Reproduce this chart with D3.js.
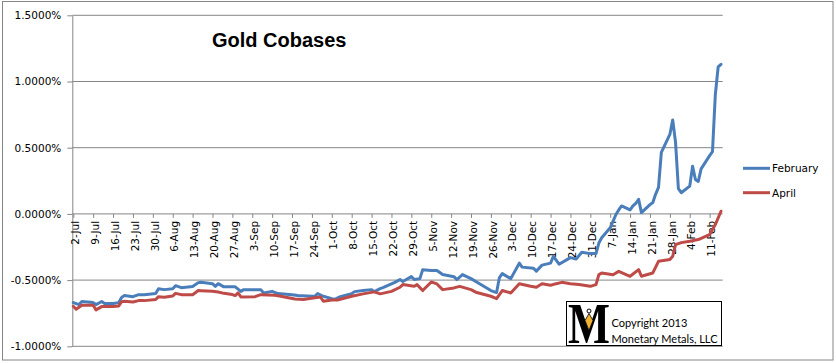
<!DOCTYPE html>
<html>
	<head>
		<meta charset="utf-8">
		<style type="text/css">
			body  { margin: 0; background: #fff; }
			text  { font-family: "DejaVu Sans", sans-serif; }
		</style>
		<title>Gold Cobases</title>
	</head>
	<body>
		<script src="https://cdn.jsdelivr.net/npm/d3@7"></script>
		<script>

// data //////////////////////////////////////////////////////////////////////

var yTicks = [-1, -0.5, 0, 0.5, 1, 1.5];   // percent

var seriesNames  = ["February", "April"];
var seriesColors = ["#4a7ebb", "#be4b48"];

var february = [
	["2012-07-02",-0.670],["2012-07-04",-0.685],["2012-07-05",-0.662],["2012-07-09",-0.670],["2012-07-10",-0.685],
	["2012-07-12",-0.662],["2012-07-13",-0.677],["2012-07-16",-0.677],["2012-07-18",-0.670],["2012-07-19",-0.632],
	["2012-07-20",-0.617],["2012-07-23",-0.625],["2012-07-25",-0.610],["2012-07-27",-0.610],["2012-07-31",-0.602],
	["2012-08-01",-0.565],["2012-08-03",-0.572],["2012-08-06",-0.565],["2012-08-07",-0.542],["2012-08-09",-0.557],
	["2012-08-13",-0.549],["2012-08-15",-0.519],["2012-08-16",-0.516],["2012-08-20",-0.527],["2012-08-21",-0.547],
	["2012-08-22",-0.527],["2012-08-24",-0.551],["2012-08-28",-0.551],["2012-08-30",-0.585],["2012-08-31",-0.572],
	["2012-09-06",-0.572],["2012-09-07",-0.597],["2012-09-10",-0.585],["2012-09-12",-0.602],["2012-09-17",-0.610],
	["2012-09-19",-0.617],["2012-09-24",-0.622],["2012-09-25",-0.622],["2012-09-26",-0.602],["2012-09-28",-0.622],
	["2012-10-01",-0.640],["2012-10-02",-0.645],["2012-10-04",-0.625],["2012-10-08",-0.602],["2012-10-09",-0.587],
	["2012-10-12",-0.579],["2012-10-15",-0.572],["2012-10-16",-0.587],["2012-10-18",-0.565],["2012-10-19",-0.557],
	["2012-10-23",-0.519],["2012-10-25",-0.496],["2012-10-26",-0.511],["2012-10-29",-0.474],["2012-10-30",-0.496],
	["2012-11-01",-0.489],["2012-11-02",-0.421],["2012-11-05",-0.428],["2012-11-07",-0.428],["2012-11-08",-0.443],
	["2012-11-09",-0.458],["2012-11-13",-0.474],["2012-11-14",-0.496],["2012-11-16",-0.458],["2012-11-19",-0.489],
	["2012-11-22",-0.527],["2012-11-26",-0.579],["2012-11-28",-0.594],["2012-11-29",-0.481],["2012-11-30",-0.451],
	["2012-12-03",-0.489],["2012-12-06",-0.372],["2012-12-07",-0.402],["2012-12-11",-0.410],["2012-12-12",-0.432],
	["2012-12-14",-0.387],["2012-12-17",-0.372],["2012-12-18",-0.320],["2012-12-20",-0.380],["2012-12-24",-0.330],
	["2012-12-26",-0.340],["2012-12-28",-0.290],["2012-12-31",-0.300],["2013-01-02",-0.300],["2013-01-03",-0.220],
	["2013-01-04",-0.180],["2013-01-07",-0.105],["2013-01-09",-0.005],["2013-01-10",0.030],["2013-01-11",0.060],
	["2013-01-14",0.030],["2013-01-15",0.060],["2013-01-16",0.080],["2013-01-17",0.110],["2013-01-18",0.010],
	["2013-01-21",0.070],["2013-01-22",0.086],["2013-01-23",0.150],["2013-01-24",0.200],["2013-01-25",0.465],
	["2013-01-28",0.600],["2013-01-29",0.710],["2013-01-30",0.540],["2013-01-31",0.190],["2013-02-01",0.160],
	["2013-02-04",0.210],["2013-02-05",0.360],["2013-02-06",0.260],["2013-02-07",0.245],["2013-02-08",0.340],
	["2013-02-11",0.440],["2013-02-12",0.470],["2013-02-13",0.900],["2013-02-14",1.110],["2013-02-15",1.130],
];

var april = [
	["2012-07-02",-0.698],["2012-07-03",-0.720],["2012-07-05",-0.690],["2012-07-09",-0.690],["2012-07-10",-0.725],
	["2012-07-12",-0.700],["2012-07-16",-0.700],["2012-07-18",-0.695],["2012-07-19",-0.663],["2012-07-20",-0.660],
	["2012-07-23",-0.665],["2012-07-25",-0.655],["2012-07-27",-0.655],["2012-07-31",-0.647],["2012-08-01",-0.625],
	["2012-08-03",-0.630],["2012-08-06",-0.620],["2012-08-07",-0.600],["2012-08-09",-0.610],["2012-08-13",-0.610],
	["2012-08-15",-0.579],["2012-08-16",-0.580],["2012-08-20",-0.585],["2012-08-22",-0.590],["2012-08-24",-0.600],
	["2012-08-27",-0.609],["2012-08-28",-0.617],["2012-08-29",-0.597],["2012-08-30",-0.627],["2012-09-04",-0.625],
	["2012-09-06",-0.610],["2012-09-11",-0.615],["2012-09-13",-0.622],["2012-09-18",-0.642],["2012-09-21",-0.647],
	["2012-09-25",-0.634],["2012-09-27",-0.627],["2012-09-28",-0.660],["2012-10-01",-0.650],["2012-10-03",-0.650],
	["2012-10-08",-0.622],["2012-10-12",-0.604],["2012-10-16",-0.589],["2012-10-18",-0.604],["2012-10-22",-0.585],
	["2012-10-25",-0.554],["2012-10-26",-0.534],["2012-10-30",-0.547],["2012-10-31",-0.534],["2012-11-02",-0.579],
	["2012-11-05",-0.514],["2012-11-07",-0.529],["2012-11-09",-0.572],["2012-11-13",-0.559],["2012-11-15",-0.547],
	["2012-11-19",-0.572],["2012-11-21",-0.594],["2012-11-26",-0.622],["2012-11-28",-0.640],["2012-11-29",-0.610],
	["2012-11-30",-0.579],["2012-12-03",-0.597],["2012-12-06",-0.527],["2012-12-10",-0.547],["2012-12-12",-0.554],
	["2012-12-14",-0.527],["2012-12-17",-0.539],["2012-12-19",-0.527],["2012-12-21",-0.517],["2012-12-24",-0.527],
	["2012-12-27",-0.534],["2012-12-31",-0.547],["2013-01-02",-0.534],["2013-01-03",-0.459],["2013-01-04",-0.447],
	["2013-01-08",-0.459],["2013-01-10",-0.434],["2013-01-14",-0.471],["2013-01-17",-0.421],["2013-01-18",-0.471],
	["2013-01-22",-0.446],["2013-01-24",-0.358],["2013-01-28",-0.345],["2013-01-29",-0.320],["2013-01-30",-0.232],
	["2013-02-01",-0.217],["2013-02-04",-0.207],["2013-02-07",-0.194],["2013-02-11",-0.156],["2013-02-13",-0.081],
	["2013-02-15",0.020],
];

// helpers //////////////////////////////////////////////////////////////////

var parse_time  = d3.timeParse("%Y-%m-%d");
var format_tick = d3.timeFormat("%-d-%b");

var W = 836, H = 363;
var plot = {left: 72.3, right: 722.7, top: 15.3, bottom: 346.3};
var grid_color = "#868686";

var svg = d3.select('body').append('svg')
	.attr('width', W)
	.attr('height', H);

// chart border
svg.append('rect')
	.attr('x', 2.5).attr('y', 1.5)
	.attr('width', 830.5).attr('height', 358.5)
	.attr('fill', '#fff')
	.attr('stroke', grid_color);

var x = d3.scaleTime()
	.domain([parse_time("2012-07-02"), parse_time("2013-02-15")])
	.range([73.3, 721]);

var y = d3.scaleLinear()
	.domain([-1, 1.5])
	.range([plot.bottom, plot.top]);

// gridlines
svg.append('g')
	.selectAll('line')
	.data(yTicks)
	.join('line')
		.attr('x1', plot.left).attr('x2', plot.right)
		.attr('y1', d => y(d)).attr('y2', d => y(d))
		.attr('stroke', grid_color);

// y axis
var yAxis = svg.append('g')
	.attr('transform', `translate(${plot.left},0)`)
	.call(d3.axisLeft(y)
		.tickValues(yTicks)
		.tickSize(5)
		.tickSizeOuter(0)
		.tickFormat(d => d.toFixed(4) + "%"));
yAxis.selectAll('path, line').attr('stroke', grid_color);
yAxis.selectAll('text')
	.attr('x', -11)
	.attr('fill', '#000')
	.style('font-size', '10.5px')
	.style('font-family', '"DejaVu Sans", sans-serif');

// x axis on the zero line
var weeks = d3.timeMonday.range(parse_time("2012-07-02"), parse_time("2013-02-12"));
var xAxis = svg.append('g')
	.attr('transform', `translate(0,${y(0)})`)
	.call(d3.axisBottom(x)
		.tickValues(weeks)
		.tickSize(4)
		.tickFormat(format_tick));
xAxis.select('.domain').remove();
xAxis.selectAll('line').attr('stroke', grid_color);
xAxis.selectAll('text')
	.attr('transform', 'rotate(-90)')
	.attr('x', -7)
	.attr('y', 1.5)
	.attr('dy', '0.35em')
	.attr('text-anchor', 'end')
	.attr('fill', '#000')
	.style('font-size', '10.5px')
	.style('font-family', '"DejaVu Sans", sans-serif');

// series
var line = d3.line()
	.x(d => x(parse_time(d[0])))
	.y(d => y(d[1]));

[february, april].forEach((s, i) => {
	svg.append('path')
		.attr('d', line(s))
		.attr('fill', 'none')
		.attr('stroke', seriesColors[i])
		.attr('stroke-width', 3)
		.attr('stroke-linejoin', 'round')
		.attr('stroke-linecap', 'round');
});

// title
svg.append('text')
	.attr('x', 212).attr('y', 47)
	.style('font-family', '"Liberation Sans", Arial, sans-serif')
	.style('font-weight', 'bold')
	.style('font-size', '20px')
	.text("Gold Cobases");

// legend
var legend = svg.append('g')
	.selectAll('g')
	.data(seriesNames)
	.join('g')
		.attr('transform', (d, i) => `translate(743,${168.3 + i*24.4})`);
legend.append('line')
	.attr('x1', 0).attr('x2', 27)
	.attr('stroke', (d, i) => seriesColors[i])
	.attr('stroke-width', 3);
legend.append('text')
	.attr('x', 29).attr('y', 4)
	.style('font-size', '10.5px')
	.text(d => d);

// copyright box
var box = svg.append('g').attr('transform', 'translate(566.5,301.5)');
box.append('rect')
	.attr('width', 155).attr('height', 44)
	.attr('fill', '#fff')
	.attr('stroke', '#000');
box.append('text')
	.attr('x', 2).attr('y', 41)
	.attr('transform', 'scale(0.78,1)')
	.style('font-family', '"Liberation Serif", serif')
	.style('font-weight', 'bold')
	.style('font-size', '57px')
	.text("M");
box.append('circle')
	.attr('cx', 22.5).attr('cy', 9.5).attr('r', 2)
	.attr('fill', '#fff').attr('stroke', '#000');
box.append('path')
	.attr('d', 'M22.5,12 L26.5,19 L22.5,29 L18.5,19 Z')
	.attr('fill', '#f0b030').attr('stroke', '#000').attr('stroke-width', 0.8);
box.append('text')
	.attr('x', 45).attr('y', 25.5)
	.style('font-family', 'Lato, sans-serif')
	.style('font-size', '11px')
	.text("Copyright 2013");
box.append('text')
	.attr('x', 45).attr('y', 41.5)
	.style('font-family', 'Lato, sans-serif')
	.style('font-size', '11px')
	.text("Monetary Metals, LLC");

		</script>
	</body>
</html>
